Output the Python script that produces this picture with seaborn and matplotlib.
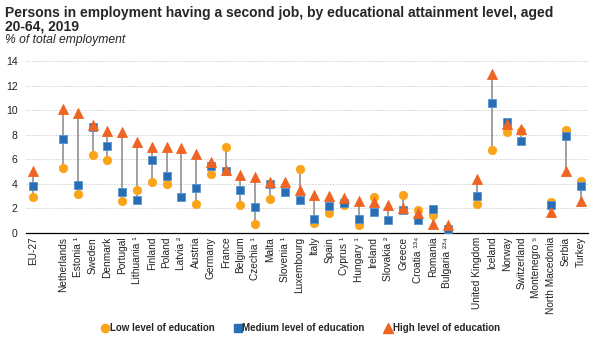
import numpy as np
import pandas as pd
import seaborn as sns
import matplotlib
matplotlib.use("Agg")
import matplotlib.pyplot as plt
from matplotlib.lines import Line2D

sns.set_theme(style="white")
plt.rcParams['font.family'] = ['Liberation Sans', 'DejaVu Sans']

# ---- data ----
countries = ["EU-27", "Netherlands", "Estonia ¹", "Sweden", "Denmark", "Portugal",
             "Lithuania ¹", "Finland", "Poland", "Latvia ²", "Austria", "Germany",
             "France", "Belgium", "Czechia ¹", "Malta", "Slovenia ¹", "Luxembourg",
             "Italy", "Spain", "Cyprus ¹", "Hungary ¹", "Ireland", "Slovakia ²",
             "Greece", "Croatia ¹³⁴", "Romania", "Bulgaria ²³⁴",
             "United Kingdom", "Iceland", "Norway", "Switzerland", "Montenegro ⁵",
             "North Macedonia", "Serbia", "Turkey"]
low = [2.9, 5.25, 3.15, 6.3, 5.9, 2.6, 3.5, 4.15, 3.95, np.nan, 2.3, 4.8,
       7.0, 2.25, 0.75, 2.75, np.nan, 5.2, 0.8, 1.6, 2.25, 0.65, 2.95, np.nan,
       3.05, 1.85, 1.45, np.nan,
       2.35, 6.75, 8.25, 8.3, np.nan, 2.5, 8.4, 4.2]
medium = [3.8, 7.6, 3.9, 8.65, 7.1, 3.3, 2.7, 5.95, 4.65, 2.95, 3.65, 5.45,
          5.0, 3.5, 2.1, 3.95, 3.3, 2.7, 1.15, 2.15, 2.4, 1.15, 1.7, 1.05,
          1.85, 1.05, 1.95, 0.3,
          3.0, 10.55, 9.0, 7.5, np.nan, 2.25, 7.9, 3.8]
high = [5.0, 10.1, 9.8, 8.8, 8.3, 8.2, 7.4, 7.0, 6.95, 6.9, 6.4, 5.8,
        5.1, 4.7, 4.55, 4.15, 4.1, 3.5, 3.05, 3.0, 2.8, 2.6, 2.5, 2.25,
        2.0, 1.6, 0.75, 0.6,
        4.35, 12.95, 8.85, 8.45, np.nan, 1.65, 5.05, 2.6]
# slot layout (blank slots separate the groups)
slots = ["EU-27", ""] + countries[1:28] + [" "] + countries[28:]
series_names = ["Low level of education", "Medium level of education", "High level of education"]

# ---- build long table ----
pos = [slots.index(c) for c in countries]
frames = []
for name, vals in zip(series_names, [low, medium, high]):
    frames.append(pd.DataFrame({"pos": pos, "value": vals, "level": name}))
df = pd.concat(frames, ignore_index=True).dropna()

colors = {series_names[0]: "#FAA519", series_names[1]: "#286EB4", series_names[2]: "#F06423"}
markers = {series_names[0]: "o", series_names[1]: "s", series_names[2]: "^"}
sizes = {series_names[0]: 36, series_names[1]: 40, series_names[2]: 52}

fig = plt.figure(figsize=(6.0, 3.44), dpi=100)
ax = fig.add_axes([26/600, 1 - 232.7/344, (588-26)/600, (232.7-61)/344])

# range lines
wide = pd.DataFrame({"pos": pos, "low": low, "medium": medium, "high": high})
lo = wide[["low", "medium", "high"]].min(axis=1)
hi = wide[["low", "medium", "high"]].max(axis=1)
ax.vlines(wide["pos"], lo, hi, color="#9A9A9A", lw=1.3, zorder=1)

for name in series_names:
    sub = df[df["level"] == name]
    sns.scatterplot(data=sub, x="pos", y="value", ax=ax, color=colors[name],
                    marker=markers[name], s=sizes[name],
                    edgecolor=("#5B93CF" if name == series_names[1] else colors[name]),
                    linewidth=0.6, legend=False, zorder=3)

ax.set_xlim(-0.5, len(slots) - 0.5)
ax.set_ylim(0, 14)
ax.set_yticks(range(0, 15, 2))
ax.set_xticks(range(len(slots)))
ax.set_xticklabels(slots, rotation=90, fontsize=7.3, color="#222222")
ax.set_xticks(np.arange(-0.5, len(slots), 1), minor=True)
ax.tick_params(axis="x", which="major", length=0, pad=3)
ax.tick_params(axis="x", which="minor", length=3, width=0.8, color="black", direction="out")
ax.tick_params(axis="y", length=0, labelsize=7.5, pad=6, labelcolor="#222222")
ax.set_xlabel("")
ax.set_ylabel("")
for y in range(2, 15, 2):
    ax.axhline(y, color="#CFCFCF", lw=0.7, ls=(0, (1.5, 1.5)), zorder=0)
for s in ["top", "right", "left"]:
    ax.spines[s].set_visible(False)
ax.spines["bottom"].set_color("black")
ax.spines["bottom"].set_linewidth(0.9)

# titles
fig.text(5/600, 1 - 6/344,
         "Persons in employment having a second job, by educational attainment level, aged\n20-64, 2019",
         fontsize=10, fontweight="bold", va="top", ha="left", linespacing=0.95)
fig.text(5/600, 1 - 43.5/344, "% of total employment", fontsize=8.7, fontstyle="italic",
         va="baseline", ha="left")

# legend
handles = [Line2D([], [], ls="", marker=markers[n], color=colors[n], markersize=6 if n != series_names[2] else 7)
           for n in series_names]
leg = fig.legend(handles, series_names, loc="center", bbox_to_anchor=(0.5, 1 - 328/344), ncol=3,
                 frameon=False, handletextpad=0.0, columnspacing=1.9,
                 prop={"size": 7, "weight": "bold"}, handlelength=1.0)

fig.savefig("out.png", dpi=100)
